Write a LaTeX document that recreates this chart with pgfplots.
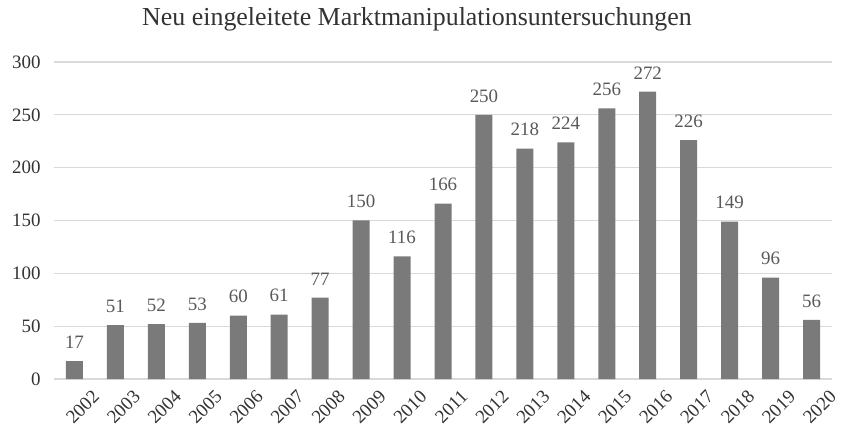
\documentclass[border=0pt]{standalone}
\usepackage{pgfplots}
\pgfplotsset{compat=1.18}
\usepackage{fontspec}
\setmainfont{Liberation Serif}
\definecolor{barc}{HTML}{7A7A7A}
\definecolor{lblc}{HTML}{595959}
\definecolor{tickc}{HTML}{333333}
\definecolor{gridc}{HTML}{D9D9D9}
\begin{document}
\begin{tikzpicture}
\begin{axis}[
  scale only axis,
  width=778bp, height=317bp,
  xmin=-0.5, xmax=18.5,
  ymin=0, ymax=300,
  ytick={0,50,...,300},
  xtick={0,...,18},
  xticklabels={2002,2003,2004,2005,2006,2007,2008,2009,2010,2011,2012,2013,2014,2015,2016,2017,2018,2019,2020},
  xticklabel style={rotate=45, anchor=north east, font=\fontsize{19}{21}\selectfont, color=tickc, inner sep=0bp, xshift=5bp, yshift=-19bp},
  yticklabel style={font=\fontsize{19}{21}\selectfont, color=tickc, xshift=-10bp},
  /pgf/number format/assume math mode=true,
  ymajorgrids, grid style={gridc, line width=1.2bp},
  axis line style={draw=none},
  axis x line*=bottom,
  x axis line style={draw=gridc, line width=1.2bp},
  major tick length=0pt,
  ybar, bar width=17bp,
  nodes near coords,
  nodes near coords style={font=\fontsize{19}{21}\selectfont, color=lblc, yshift=9bp},
  clip=false,
]
\addplot[fill=barc, draw=none] coordinates {
(0,17) (1,51) (2,52) (3,53) (4,60) (5,61) (6,77) (7,150) (8,116) (9,166)
(10,250) (11,218) (12,224) (13,256) (14,272) (15,226) (16,149) (17,96) (18,56)};
\end{axis}
\node[font=\fontsize{26}{28}\selectfont, color=tickc] at (363bp,360bp) {Neu eingeleitete Marktmanipulationsuntersuchungen};
\useasboundingbox (-54bp,-54bp) rectangle (790bp,379bp);
\end{tikzpicture}
\end{document}
